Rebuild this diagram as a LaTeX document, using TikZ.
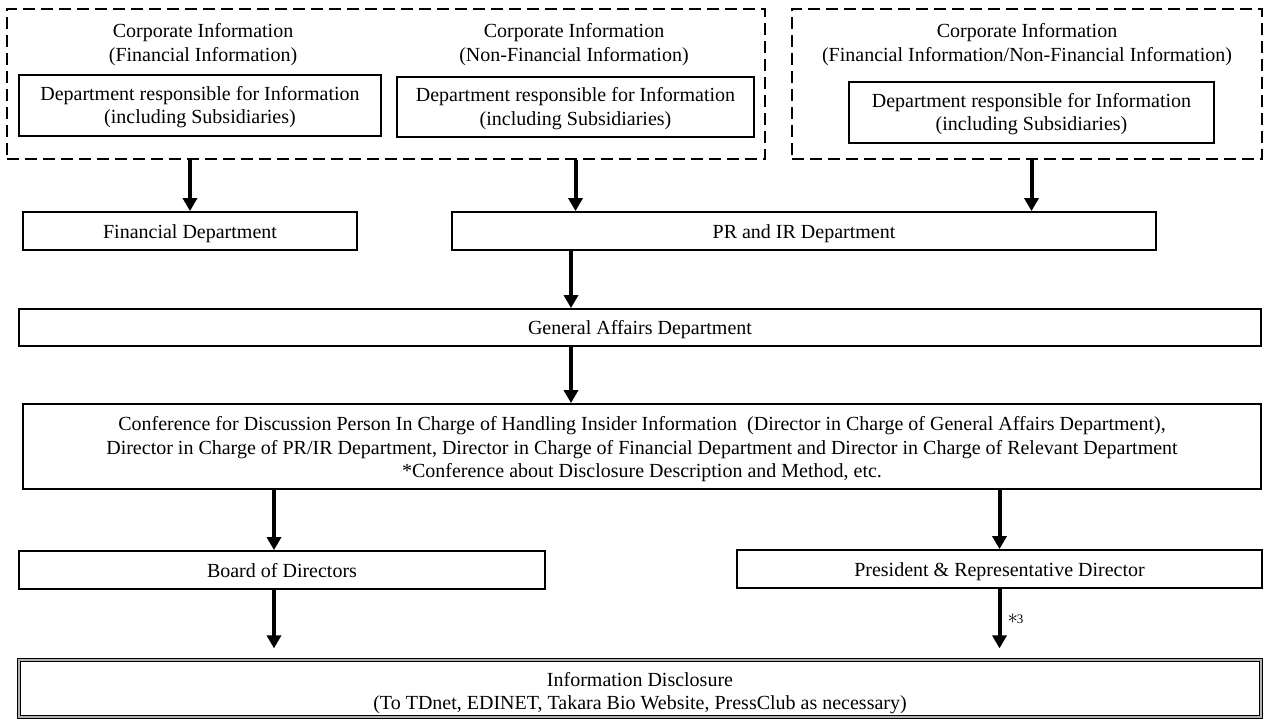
\documentclass[tikz,border=0pt]{standalone}
\usepackage{fontspec}
\setmainfont{Liberation Serif}
\usetikzlibrary{arrows.meta}
\newcommand\fsz{\fontsize{20}{23.5}\selectfont}
\newcommand\fsmall{\fontsize{13}{14}\selectfont}
\newcommand\topstrut[1]{\rule{0pt}{#1}}
\newcommand\bigast{{\fontsize{20}{20}\selectfont$\ast$}}
\begin{document}
\begin{tikzpicture}[x=1pt,y=-1pt,
  box/.style={draw, line width=1.8pt, inner sep=0pt, align=center, font=\fsz},
  sbox/.style={box, text height=18pt, text depth=4pt},
  dbox/.style={draw, line width=2pt, dash pattern=on 12pt off 6pt, inner sep=0pt},
  txt/.style={inner sep=0pt, align=center, font=\fsz},
  arr/.style={line width=4pt, -{Triangle[width=14pt,length=13pt]}},
  dblbox/.style={draw, line width=1.2pt, double=black!30, double distance=2pt, inner sep=0pt, align=center, font=\fsz}
]
\useasboundingbox (0,0) rectangle (1264,720);
% dashed groups
\node[dbox, minimum width=758pt, minimum height=150pt] (dash1) at (386,84) {};
\node[dbox, minimum width=470pt, minimum height=150pt] (dash2) at (1027,84) {};
% titles
\node[txt] (tA) at (203,44.5) {Corporate Information\\(Financial Information)};
\node[txt] (tB) at (574,44.5) {Corporate Information\\(Non-Financial Information)};
\node[txt] (tC) at (1027,44.5) {Corporate Information\\(Financial Information/Non-Financial Information)};
% inner departments
\node[box, minimum width=362pt, minimum height=61pt] (deptA) at (200,105.5) {\topstrut{17.7pt}Department responsible for Information\\(including Subsidiaries)};
\node[box, minimum width=357pt, minimum height=60pt] (deptB) at (575.5,107) {\topstrut{17.7pt}Department responsible for Information\\(including Subsidiaries)};
\node[box, minimum width=365pt, minimum height=61pt] (deptC) at (1031.5,112.5) {\topstrut{17.7pt}Department responsible for Information\\(including Subsidiaries)};
% second row
\node[sbox, minimum width=334pt, minimum height=38pt] (fin) at (190,231) {Financial Department};
\node[sbox, minimum width=704pt, minimum height=38pt] (pr) at (804,231) {PR and IR Department};
% general affairs
\node[sbox, minimum width=1242pt, minimum height=37pt] (ga) at (640,327.5) {General Affairs Department};
% conference
\node[box, minimum width=1238pt, minimum height=85pt] (conf) at (642,446.5) {\topstrut{19.7pt}Conference for Discussion Person In Charge of Handling Insider Information\ \ (Director in Charge of General Affairs Department),\\Director in Charge of PR/IR Department, Director in Charge of Financial Department and Director in Charge of Relevant Department\\*Conference about Disclosure Description and Method, etc.};
% board / president
\node[sbox, minimum width=526pt, minimum height=38pt] (board) at (282,570) {Board of Directors};
\node[sbox, minimum width=525pt, minimum height=38pt] (pres) at (999.5,569) {President \& Representative Director};
% info disclosure
\node[dblbox, minimum width=1242pt, minimum height=57pt] (info) at (640,688.5) {\topstrut{23pt}Information Disclosure\\(To TDnet, EDINET, Takara Bio Website, PressClub as necessary)};
% columns
\coordinate (colM) at (571,0);
\coordinate (colL) at (274,0);
% arrows
\draw[arr] (fin.north |- dash1.south) -- (fin.north);
\draw[arr] (deptB.south |- dash1.south) -- (deptB.south |- pr.north);
\draw[arr] (deptC.south |- dash2.south) -- (deptC.south |- pr.north);
\draw[arr] (colM |- pr.south) -- (colM |- ga.north);
\draw[arr] (colM |- ga.south) -- (colM |- conf.north);
\draw[arr] (colL |- conf.south) -- (colL |- board.north);
\draw[arr] (pres.north |- conf.south) -- (pres.north);
\draw[arr, shorten >=11pt] (colL |- board.south) -- (colL |- info.north);
\draw[arr, shorten >=11pt] (pres.south) -- node[pos=0.42, right=6pt, inner sep=0pt, font=\fsmall] (n3) {\bigast\kern-1pt 3} (pres.south |- info.north);
\end{tikzpicture}
\end{document}
